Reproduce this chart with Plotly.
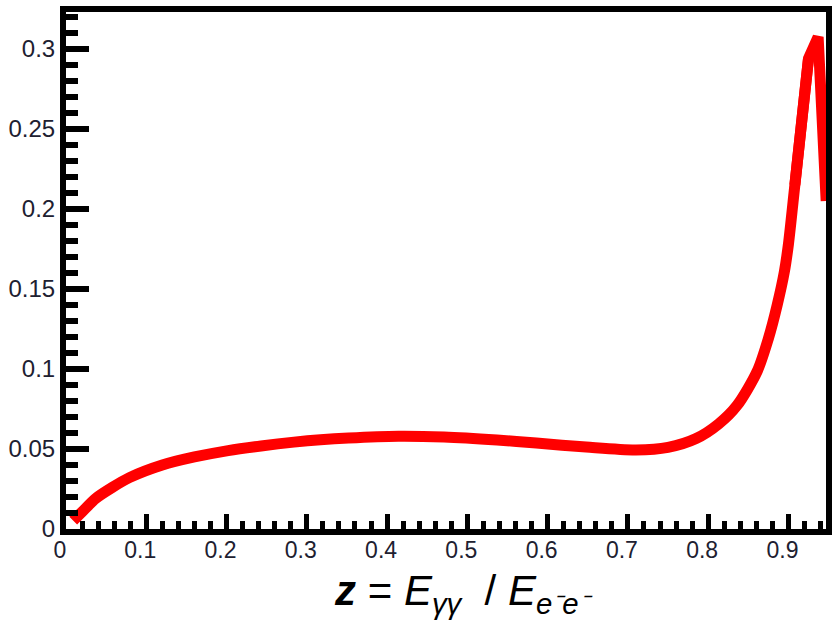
import plotly.graph_objects as go

# Data
z_vals = [0.009, 0.021, 0.037, 0.058, 0.079, 0.12, 0.16, 0.202, 0.243, 0.284,
          0.317, 0.352, 0.414, 0.471, 0.537, 0.586, 0.648, 0.71, 0.75, 0.785,
          0.813, 0.836, 0.861, 0.875, 0.886, 0.895, 0.900, 0.908, 0.917,
          0.925, 0.937, 0.947]
lum_vals = [0.0052, 0.0112, 0.0191, 0.0261, 0.0321, 0.0400, 0.0450, 0.0490, 0.0519, 0.0543,
            0.0558, 0.0569, 0.0580, 0.0575, 0.0556, 0.0537, 0.0512, 0.0494, 0.0510, 0.0565,
            0.0656, 0.0772, 0.0985, 0.119, 0.140, 0.161, 0.178, 0.215, 0.257,
            0.294, 0.3075, 0.205]

x_range = [0, 0.9468]
y_range = [0, 0.3231]

FONT = "Liberation Sans, Arial, sans-serif"
LABEL_COLOR = "#202030"

# smooth body of the curve, then the sharp polyline peak (overlapping a little)
n_smooth = 30
n_peak_start = 27
fig = go.Figure()
fig.add_trace(go.Scatter(x=z_vals[:n_smooth], y=lum_vals[:n_smooth], mode="lines",
                         line=dict(color="#ff0000", width=11, shape="spline", smoothing=0.8),
                         showlegend=False, hoverinfo="skip"))
fig.add_trace(go.Scatter(x=z_vals[n_peak_start:], y=lum_vals[n_peak_start:], mode="lines",
                         line=dict(color="#ff0000", width=11),
                         showlegend=False, hoverinfo="skip"))

fig.update_layout(
    width=837, height=630,
    margin=dict(l=66, r=5, t=12, b=101),
    paper_bgcolor="white", plot_bgcolor="white",
    font=dict(family=FONT, color=LABEL_COLOR),
)

fig.update_xaxes(
    range=x_range, showgrid=False, zeroline=False,
    showline=True, linewidth=6, linecolor="black", mirror=True,
    ticks="inside", ticklen=15, tickwidth=5, tickcolor="black",
    tick0=0, dtick=0.1,
    minor=dict(ticks="inside", ticklen=8, tickwidth=5, tickcolor="black", dtick=0.02, showgrid=False),
    tickfont=dict(size=23, family=FONT, color=LABEL_COLOR),
    ticklabelshift=-6, ticklabelstandoff=-5,
)
fig.update_yaxes(
    range=y_range, showgrid=False, zeroline=False,
    showline=True, linewidth=6, linecolor="black", mirror=True,
    ticks="inside", ticklen=23, tickwidth=6, tickcolor="black",
    tick0=0, dtick=0.05,
    minor=dict(ticks="inside", ticklen=12, tickwidth=6, tickcolor="black", dtick=0.01, showgrid=False),
    tickfont=dict(size=24, family=FONT, color=LABEL_COLOR),
)

fig.add_annotation(
    xref="paper", yref="paper", x=0.5, y=-0.07, xanchor="center", yanchor="top",
    showarrow=False,
    text="<b><i>z</i></b> = <i>E</i><sub><i>γγ</i></sub>  / <i>E</i><sub><i>e⁻e⁻</i></sub>",
    font=dict(size=42, family=FONT, color="black"),
    xshift=17,
)

fig.write_html("out.html")
